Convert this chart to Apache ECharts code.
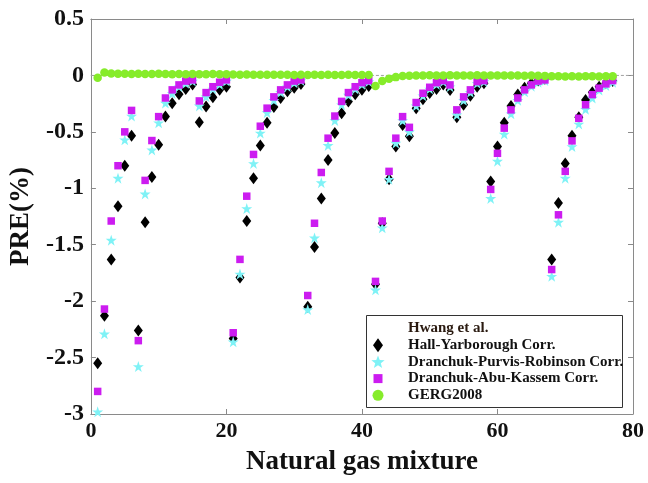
<!DOCTYPE html>
<html>
<head>
<meta charset="utf-8">
<script src="https://cdn.jsdelivr.net/npm/echarts@6/dist/echarts.min.js"></script>
<style>
  html, body { margin: 0; padding: 0; background: #ffffff; }
  #chart { width: 648px; height: 483px; }
</style>
</head>
<body>
<div id="chart"></div>
<script>
// Mixture index (x) for every gas sample
const mixtures = [
  1, 2, 3, 4, 5, 6, 7, 8, 9, 10, 11, 12, 13, 14, 15, 16, 17, 18, 19, 20,
  21, 22, 23, 24, 25, 26, 27, 28, 29, 30, 31, 32, 33, 34, 35, 36, 37, 38, 39, 40,
  41, 42, 43, 44, 45, 46, 47, 48, 49, 50, 51, 52, 53, 54, 55, 56, 57, 58, 59, 60,
  61, 62, 63, 64, 65, 66, 67, 68, 69, 70, 71, 72, 73, 74, 75, 76, 77
];

// Percent relative error of each correlation, per mixture
const hallYarborough = [
  -2.55, -2.13, -1.63, -1.16, -0.80, -0.535, -2.26, -1.30, -0.90, -0.615,
  -0.365, -0.246, -0.166, -0.12, -0.08, -0.414, -0.276, -0.193, -0.128, -0.10,
  -2.33, -1.79, -1.29, -0.91, -0.62, -0.42, -0.28, -0.20, -0.14, -0.11,
  -0.075, -2.05, -1.52, -1.09, -0.75, -0.51, -0.335, -0.23, -0.166, -0.128,
  -0.093, -1.85, -1.31, -0.92, -0.63, -0.44, -0.54, -0.29, -0.21, -0.155,
  -0.12, -0.08, -0.13, -0.37, -0.26, -0.18, -0.10, -0.07, -0.94, -0.63,
  -0.42, -0.27, -0.17, -0.11, -0.07, -0.045, -0.03, -1.63, -1.13, -0.78,
  -0.535, -0.37, -0.217, -0.15, -0.10, -0.07, -0.05
];
const dranchukPurvisRobinson = [
  -2.98, -2.29, -1.46, -0.91, -0.57, -0.36, -2.58, -1.05, -0.66, -0.42,
  -0.245, -0.16, -0.10, -0.07, -0.05, -0.27, -0.19, -0.12, -0.08, -0.05,
  -2.36, -1.76, -1.18, -0.78, -0.51, -0.33, -0.22, -0.15, -0.10, -0.065,
  -0.045, -2.075, -1.44, -0.95, -0.62, -0.40, -0.26, -0.175, -0.12, -0.08,
  -0.055, -1.90, -1.35, -0.92, -0.60, -0.40, -0.50, -0.27, -0.18, -0.12,
  -0.08, -0.055, -0.10, -0.35, -0.22, -0.15, -0.07, -0.055, -1.09, -0.76,
  -0.52, -0.34, -0.22, -0.145, -0.095, -0.06, -0.045, -1.78, -1.30, -0.91,
  -0.63, -0.43, -0.30, -0.20, -0.13, -0.09, -0.06
];
const dranchukAbuKassem = [
  -2.80, -2.07, -1.29, -0.80, -0.50, -0.31, -2.35, -0.93, -0.577, -0.365,
  -0.20, -0.128, -0.084, -0.05, -0.04, -0.226, -0.152, -0.10, -0.06, -0.04,
  -2.28, -1.63, -1.07, -0.70, -0.45, -0.29, -0.19, -0.128, -0.084, -0.05,
  -0.04, -1.95, -1.31, -0.86, -0.556, -0.36, -0.23, -0.152, -0.10, -0.064,
  -0.046, -1.825, -1.29, -0.85, -0.556, -0.365, -0.46, -0.24, -0.158, -0.105,
  -0.064, -0.046, -0.084, -0.305, -0.19, -0.128, -0.055, -0.046, -1.01, -0.69,
  -0.467, -0.305, -0.20, -0.128, -0.084, -0.05, -0.04, -1.72, -1.235, -0.85,
  -0.58, -0.38, -0.26, -0.17, -0.113, -0.075, -0.046
];
const gerg2008 = [
  -0.02, 0.025, 0.018, 0.015, 0.015, 0.012, 0.015, 0.012, 0.012, 0.015,
  0.012, 0.01, 0.012, 0.01, 0.012, 0.01, 0.01, 0.012, 0.01, 0.01,
  0.008, 0.006, 0.008, 0.006, 0.005, 0.006, 0.005, 0.006, 0.005, 0.004,
  0.005, 0.004, 0.005, 0.004, 0.005, 0.004, 0.004, 0.005, 0.004, 0.004,
  0.003, -0.093, -0.05, -0.03, -0.015, -0.006, -0.002, 0.0, 0.0, 0.002,
  0.0, 0.0, 0.002, 0.0, 0.0, 0.0, 0.002, 0.0, 0.0, 0.0,
  0.0, 0.0, 0.0, -0.002, 0.0, -0.002, -0.004, -0.008, -0.008, -0.01,
  -0.008, -0.01, -0.008, -0.008, -0.01, -0.008, -0.008
];

// Reference line at zero error and axis ticks
const zeroLine = [[0, 0], [80, 0]];
const xTicks = { min: 0, max: 80, step: 20 };
const yTicks = { min: -3, max: 0.5, step: 0.5 };

const legendNames = [
  'Hwang et al.',
  'Hall-Yarborough Corr.',
  'Dranchuk-Purvis-Robinson Corr.',
  'Dranchuk-Abu-Kassem Corr.',
  'GERG2008'
];

const SERIF = "'Liberation Serif', 'Times New Roman', serif";
const AXIS_GRAY = '#8a8a8a';
const STAR = 'path://M50,2 L61.8,38 L99,38 L69,60.5 L80.5,97 L50,74.5 L19.5,97 L31,60.5 L1,38 L38.2,38 Z';
const COLORS = {
  hall: '#000000',
  dpr: '#7ff2f6',
  dak: '#cc1cf0',
  gerg: '#86ec2a'
};

const pairs = (ys) => mixtures.map((x, i) => [x, ys[i]]);

const boxAxis = (extra) => Object.assign({
  type: 'value',
  axisLine: { show: true, onZero: false, lineStyle: { color: AXIS_GRAY, width: 1 } },
  axisTick: { show: true, inside: true, length: 5, lineStyle: { color: AXIS_GRAY } },
  splitLine: { show: false }
}, extra);

const chart = echarts.init(document.getElementById('chart'), null, { renderer: 'canvas' });

// Hand-built legend block in the lower right of the plot
const lgX = 366.5, lgY = 315.5, lgW = 256, lgH = 92;
const rowY = [328.5, 345.2, 361.9, 378.6, 395.3];
const iconX = 378;
function starPoints(cx, cy, r) {
  const pts = [];
  for (let k = 0; k < 10; k++) {
    const a = -Math.PI / 2 + k * Math.PI / 5;
    const rr = k % 2 === 0 ? r : r * 0.42;
    pts.push([cx + rr * Math.cos(a), cy + rr * Math.sin(a)]);
  }
  return pts;
}
const legendGraphics = [
  { type: 'rect', z: 100, shape: { x: lgX, y: lgY, width: lgW, height: lgH },
    style: { fill: '#ffffff', stroke: '#333333', lineWidth: 1 } },
  { type: 'polygon', z: 101,
    shape: { points: [[iconX, rowY[1] - 7], [iconX + 5, rowY[1]], [iconX, rowY[1] + 7], [iconX - 5, rowY[1]]] },
    style: { fill: COLORS.hall } },
  { type: 'polygon', z: 101, shape: { points: starPoints(iconX, rowY[2] + 0.5, 7) },
    style: { fill: COLORS.dpr } },
  { type: 'rect', z: 101, shape: { x: iconX - 4.5, y: rowY[3] - 4.5, width: 9, height: 9 },
    style: { fill: COLORS.dak } },
  { type: 'circle', z: 101, shape: { cx: iconX, cy: rowY[4], r: 5.5 },
    style: { fill: COLORS.gerg } }
].concat(legendNames.map((name, i) => ({
  type: 'text', z: 102, x: 408, y: rowY[i],
  style: {
    text: name, fill: i === 0 ? '#2a1a10' : '#111111',
    font: 'bold 15px ' + SERIF, verticalAlign: 'middle', align: 'left'
  }
})));

chart.setOption({
  animation: false,
  backgroundColor: '#ffffff',
  grid: { left: 87, right: 15, top: 19, bottom: 69, containLabel: false },
  xAxis: [
    boxAxis({
      position: 'bottom', min: xTicks.min, max: xTicks.max, interval: xTicks.step,
      name: 'Natural gas mixture', nameLocation: 'middle', nameGap: 35,
      nameTextStyle: { fontFamily: SERIF, fontWeight: 'bold', fontSize: 27, color: '#111111' },
      axisLabel: { fontFamily: SERIF, fontWeight: 'bold', fontSize: 22, color: '#111111', margin: 6 }
    }),
    boxAxis({
      position: 'top', min: xTicks.min, max: xTicks.max, interval: xTicks.step,
      axisLabel: { show: false }
    })
  ],
  yAxis: [
    boxAxis({
      position: 'left', min: yTicks.min, max: yTicks.max, interval: yTicks.step,
      name: 'PRE(%)', nameLocation: 'middle', nameGap: 52, nameRotate: 90,
      nameTextStyle: { fontFamily: SERIF, fontWeight: 'bold', fontSize: 27, color: '#111111' },
      axisLabel: { fontFamily: SERIF, fontWeight: 'bold', fontSize: 24, color: '#111111', margin: 7 }
    }),
    boxAxis({
      position: 'right', min: yTicks.min, max: yTicks.max, interval: yTicks.step,
      axisLabel: { show: false }
    })
  ],
  series: [
    {
      name: 'zero', type: 'line', data: zeroLine, symbol: 'none', silent: true, z: 1,
      lineStyle: { color: '#a0a0a0', width: 1, type: [3, 2] }
    },
    {
      name: legendNames[0], type: 'scatter', data: [], symbol: 'circle', symbolSize: 6,
      itemStyle: { color: '#ffffff', opacity: 1 }
    },
    {
      name: legendNames[1], type: 'scatter', data: pairs(hallYarborough), z: 2,
      symbol: 'diamond', symbolSize: [9, 12], itemStyle: { color: COLORS.hall, opacity: 1 }
    },
    {
      name: legendNames[2], type: 'scatter', data: pairs(dranchukPurvisRobinson), z: 3,
      symbol: STAR, symbolSize: 11, itemStyle: { color: COLORS.dpr, opacity: 1 }
    },
    {
      name: legendNames[3], type: 'scatter', data: pairs(dranchukAbuKassem), z: 4,
      symbol: 'rect', symbolSize: 7.5, itemStyle: { color: COLORS.dak, opacity: 1 }
    },
    {
      name: legendNames[4], type: 'scatter', data: pairs(gerg2008), z: 5,
      symbol: 'circle', symbolSize: 8.5, itemStyle: { color: COLORS.gerg, opacity: 1 }
    }
  ],
  graphic: legendGraphics
});
</script>
</body>
</html>
